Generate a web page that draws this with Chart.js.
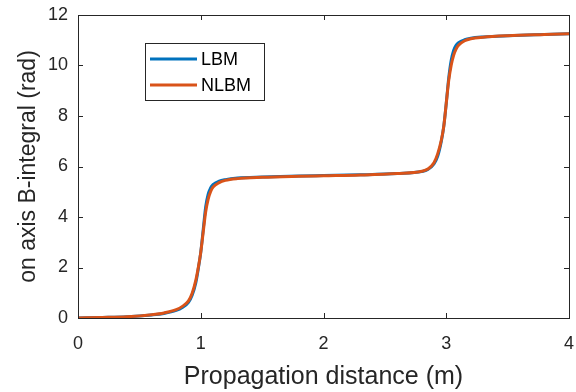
<!DOCTYPE html>
<html>
<head>
<meta charset="utf-8">
<script src="https://cdn.jsdelivr.net/npm/chart.js@4/dist/chart.umd.min.js"></script>
<style>
  html, body { margin: 0; padding: 0; background: #fff; }
  #wrap { position: relative; width: 576px; height: 392px; }
</style>
</head>
<body>
<div id="wrap"><canvas id="chart" width="576" height="392"></canvas></div>
<script>
// propagation distance (m)
const distance = [0, 0.2, 0.4, 0.6, 0.7, 0.8, 0.85, 0.9, 0.93, 0.96, 0.98, 1.0, 1.02, 1.04, 1.06, 1.08, 1.1, 1.15, 1.2, 1.3, 1.5, 1.8, 2.0, 2.3, 2.6, 2.8, 2.85, 2.9, 2.93, 2.96, 2.98, 3.0, 3.02, 3.04, 3.06, 3.08, 3.1, 3.15, 3.2, 3.3, 3.5, 3.8, 4.0];
// on axis B-integral (rad)
const lbm = [0, 0.02, 0.05, 0.12, 0.18, 0.3, 0.42, 0.62, 0.9, 1.4, 1.95, 2.6, 3.5, 4.4, 4.9, 5.15, 5.28, 5.42, 5.48, 5.54, 5.58, 5.62, 5.64, 5.67, 5.72, 5.8, 5.88, 6.1, 6.4, 7.0, 7.6, 8.5, 9.5, 10.2, 10.6, 10.8, 10.9, 11.02, 11.08, 11.13, 11.18, 11.23, 11.26];
const nlbm = [0, 0.02, 0.05, 0.13, 0.2, 0.33, 0.46, 0.68, 0.98, 1.5, 2.0, 2.6, 3.4, 4.2, 4.7, 5.0, 5.18, 5.36, 5.45, 5.52, 5.57, 5.61, 5.63, 5.66, 5.72, 5.81, 5.9, 6.15, 6.5, 7.05, 7.6, 8.5, 9.4, 10.0, 10.4, 10.65, 10.8, 10.98, 11.06, 11.12, 11.18, 11.23, 11.26];
const xTicks = [0, 1, 2, 3, 4];
const yTicks = [0, 2, 4, 6, 8, 10, 12];

const axisColor = "#262626";
const font = "'Liberation Sans', Arial, sans-serif";

// box around the plot area with inward ticks, like MATLAB
const boxPlugin = {
    id: "box",
    afterDraw(chart) {
        const ctx = chart.ctx;
        const a = chart.chartArea;
        const xs = chart.scales.x, ys = chart.scales.y;
        ctx.save();
        ctx.strokeStyle = axisColor;
        ctx.lineWidth = 1;
        ctx.strokeRect(Math.round(a.left) + 0.5, Math.round(a.top) + 0.5,
                       Math.round(a.right - a.left), Math.round(a.bottom - a.top));
        ctx.beginPath();
        xTicks.forEach(v => {
            const px = Math.round(xs.getPixelForValue(v)) + 0.5;
            ctx.moveTo(px, a.bottom); ctx.lineTo(px, a.bottom - 5);
            ctx.moveTo(px, a.top); ctx.lineTo(px, a.top + 5);
        });
        yTicks.forEach(v => {
            const py = Math.round(ys.getPixelForValue(v)) + 0.5;
            ctx.moveTo(a.left, py); ctx.lineTo(a.left + 5, py);
            ctx.moveTo(a.right, py); ctx.lineTo(a.right - 5, py);
        });
        ctx.stroke();

        // legend
        const lx = 145, ly = 43, lw = 119, lh = 57;
        ctx.fillStyle = "#fff";
        ctx.fillRect(lx, ly, lw, lh);
        ctx.strokeRect(lx + 0.5, ly + 0.5, lw, lh);
        ctx.font = "18px " + font;
        ctx.textBaseline = "middle";
        chart.data.datasets.forEach((ds, i) => {
            const y = ly + 16 + i * 26;
            ctx.strokeStyle = ds.borderColor;
            ctx.lineWidth = 3;
            ctx.beginPath();
            ctx.moveTo(lx + 5, y); ctx.lineTo(lx + 52, y);
            ctx.stroke();
            ctx.fillStyle = "#000";
            ctx.fillText(ds.label, lx + 56, y + 1);
        });
        ctx.restore();
    }
};

new Chart(document.getElementById("chart").getContext("2d"), {
    type: "line",
    data: {
        datasets: [
            {
                label: "LBM",
                data: distance.map((x, i) => ({ x: x, y: lbm[i] })),
                borderColor: "#0072BD",
                borderWidth: 3,
                pointRadius: 0,
                cubicInterpolationMode: "monotone",
                fill: false,
                order: 1
            },
            {
                label: "NLBM",
                data: distance.map((x, i) => ({ x: x, y: nlbm[i] })),
                borderColor: "#D95319",
                borderWidth: 3,
                pointRadius: 0,
                cubicInterpolationMode: "monotone",
                fill: false,
                order: 0
            }
        ]
    },
    options: {
        responsive: false,
        animation: false,
        layout: { padding: { left: 0, top: 15, right: 7, bottom: 0 } },
        plugins: {
            legend: { display: false },
            tooltip: { enabled: false }
        },
        scales: {
            x: {
                type: "linear",
                min: 0,
                max: 4,
                afterBuildTicks: s => { s.ticks = xTicks.map(v => ({ value: v })); },
                afterFit: s => { s.height = 74; s.paddingLeft = 0; s.paddingRight = 0; },
                grid: { display: false, drawTicks: false },
                border: { display: false },
                ticks: { padding: 15, color: axisColor, font: { family: font, size: 18 } },
                title: {
                    display: true,
                    text: "Propagation distance (m)",
                    color: axisColor,
                    font: { family: font, size: 25 },
                    padding: { top: 3, bottom: 0 }
                }
            },
            y: {
                min: 0,
                max: 12,
                afterBuildTicks: s => { s.ticks = yTicks.map(v => ({ value: v })); },
                afterFit: s => { s.width = 78; s.paddingTop = 0; s.paddingBottom = 0; },
                grid: { display: false, drawTicks: false },
                border: { display: false },
                ticks: { padding: 10, color: axisColor, font: { family: font, size: 18 } },
                title: {
                    display: true,
                    text: "on axis B-integral (rad)",
                    color: axisColor,
                    font: { family: font, size: 23 },
                    padding: { top: 15, bottom: 0 }
                }
            }
        }
    },
    plugins: [boxPlugin]
});
</script>
</body>
</html>
